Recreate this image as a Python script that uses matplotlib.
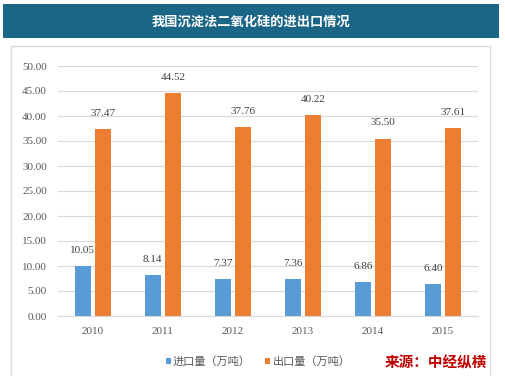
import matplotlib
matplotlib.use("Agg")
import matplotlib.pyplot as plt
import numpy as np
from matplotlib.patches import Rectangle

years = ["2010", "2011", "2012", "2013", "2014", "2015"]
imports = [10.05, 8.14, 7.37, 7.36, 6.86, 6.40]
exports = [37.47, 44.52, 37.76, 40.22, 35.50, 37.61]
yticks = [0, 5, 10, 15, 20, 25, 30, 35, 40, 45, 50]

title = "我国沉淀法二氧化硅的进出口情况"
source = "来源：中经纵横"
cjk = ["Noto Sans CJK SC", "DejaVu Sans"]
serif = "Liberation Serif"

W, H = 505, 376
fig = plt.figure(figsize=(W / 100, H / 100), dpi=100)
fig.patch.set_facecolor("white")

# title banner
fig.patches.append(Rectangle((3 / W, 1 - 38 / H), 496 / W, 34 / H,
                             transform=fig.transFigure, facecolor="#1B6686",
                             edgecolor="none"))
fig.text(251 / W, 1 - 22 / H, title, ha="center", va="center", color="white",
         fontsize=9.5, fontweight="bold", family=cjk)

# light chart frame
fig.patches.append(Rectangle((11 / W, -0.01), 479 / W, 1 - 46 / H + 0.01,
                             transform=fig.transFigure, facecolor="none",
                             edgecolor="#D9D9D9", linewidth=1))

ax = fig.add_axes([58 / W, 1 - 316 / H, 420 / W, 250 / H])
x = np.arange(len(years))
bw = 0.22
gap = 0.07
b1 = ax.bar(x - (bw + gap) / 2, imports, bw, color="#5B9BD5", label="进口量（万吨）")
b2 = ax.bar(x + (bw + gap) / 2, exports, bw, color="#ED7D31", label="出口量（万吨）")

for bars, vals in [(b1, imports), (b2, exports)]:
    for rect, v in zip(bars, vals):
        ax.annotate(f"{v:.2f}", (rect.get_x() + rect.get_width() / 2, v),
                    xytext=(0, 8), textcoords="offset points", ha="center",
                    va="bottom", fontsize=8, family=serif, color="#404040")

ax.set_xlim(-0.5, len(years) - 0.5)
ax.set_ylim(0, 50)
ax.set_yticks(yticks)
ax.set_yticklabels([f"{t:.2f}" for t in yticks], family=serif, fontsize=8,
                   color="#595959")
ax.set_xticks(x)
ax.set_xticklabels(years, family=serif, fontsize=8, color="#595959")
ax.tick_params(length=0, pad=8)
ax.grid(axis="y", color="#D9D9D9", linewidth=0.8)
ax.set_axisbelow(True)
for s in ["top", "right", "left"]:
    ax.spines[s].set_visible(False)
ax.spines["bottom"].set_color("#D9D9D9")

leg = fig.legend(handles=[b1, b2], loc="center", bbox_to_anchor=(258 / W, 1 - 362 / H),
                 ncol=2, frameon=False, prop={"family": cjk, "size": 8},
                 handlelength=0.45, handleheight=0.45, handletextpad=0.2,
                 columnspacing=1.3)
for t in leg.get_texts():
    t.set_color("#595959")

fig.text(436 / W, 1 - 362 / H, source, ha="center", va="center", color="#C00000",
         fontsize=10.5, fontweight="bold", family=cjk)

fig.savefig("out.png", dpi=100)
